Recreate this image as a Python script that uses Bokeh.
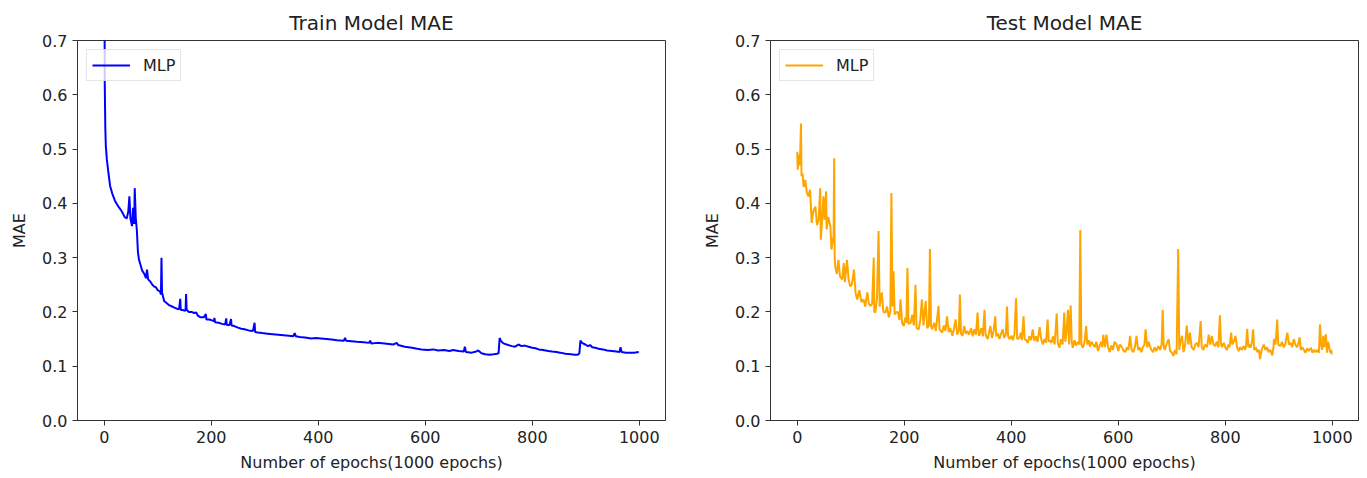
from bokeh.plotting import figure
from bokeh.layouts import row
from bokeh.models import Range1d, FixedTicker, PrintfTickFormatter, Legend, LegendItem
from bokeh.embed import file_html
from bokeh.resources import INLINE

# ---------------- data ----------------
train_epochs = [0, 1, 2, 3, 5, 8, 11, 15, 20, 24, 28, 33, 38, 42, 45, 47, 49, 52, 54, 56, 57, 59, 61, 63, 65, 68,
                71, 75, 78, 80, 82, 86, 90, 93, 97, 100, 104, 106, 107, 108, 110, 112, 117, 122, 127, 131, 136,
                140, 142, 143, 148, 152, 153, 154, 158, 163, 168, 172, 175, 180, 186, 190, 191, 196, 200, 205,
                206, 207, 214, 220, 226, 228, 229, 234, 237, 238, 243, 250, 256, 262, 270, 278, 281, 282, 287,
                295, 305, 315, 325, 335, 345, 353, 356, 358, 365, 375, 387, 395, 405, 415, 425, 435, 448, 450,
                452, 462, 472, 485, 495, 497, 499, 510, 524, 540, 547, 549, 562, 575, 585, 593, 605, 615, 624,
                635, 645, 652, 662, 672, 674, 676, 687, 695, 699, 705, 712, 720, 728, 734, 737, 739, 741, 746,
                752, 762, 768, 774, 780, 786, 793, 800, 806, 812, 820, 830, 837, 845, 852, 862, 872, 880, 885,
                888, 890, 893, 899, 904, 908, 912, 918, 924, 932, 940, 949, 957, 963, 965, 967, 975, 981, 990, 999]
train_mae = [0.95, 0.62, 0.54, 0.505, 0.48, 0.455, 0.432, 0.418, 0.405, 0.398, 0.392, 0.385, 0.375, 0.372, 0.385,
             0.413, 0.372, 0.358, 0.392, 0.362, 0.428, 0.372, 0.35, 0.31, 0.296, 0.286, 0.276, 0.27, 0.262, 0.278,
             0.26, 0.256, 0.25, 0.247, 0.245, 0.24, 0.238, 0.232, 0.30, 0.236, 0.228, 0.22, 0.216, 0.212, 0.21,
             0.208, 0.206, 0.205, 0.224, 0.204, 0.203, 0.202, 0.233, 0.204, 0.2, 0.2, 0.198, 0.199, 0.193, 0.19,
             0.19, 0.196, 0.186, 0.186, 0.185, 0.183, 0.189, 0.181, 0.18, 0.178, 0.177, 0.188, 0.176, 0.176,
             0.187, 0.175, 0.174, 0.171, 0.169, 0.168, 0.166, 0.165, 0.18, 0.163, 0.162, 0.161, 0.16, 0.159,
             0.158, 0.157, 0.156, 0.155, 0.161, 0.155, 0.154, 0.153, 0.151, 0.152, 0.151, 0.15, 0.149, 0.148,
             0.147, 0.152, 0.147, 0.146, 0.145, 0.144, 0.143, 0.147, 0.142, 0.143, 0.142, 0.14, 0.143, 0.139,
             0.136, 0.134, 0.132, 0.131, 0.13, 0.131, 0.129, 0.13, 0.128, 0.13, 0.128, 0.127, 0.136, 0.126,
             0.125, 0.127, 0.129, 0.124, 0.122, 0.121, 0.122, 0.123, 0.124, 0.152, 0.147, 0.142, 0.14, 0.137,
             0.136, 0.14, 0.137, 0.138, 0.136, 0.134, 0.133, 0.131, 0.13, 0.128, 0.127, 0.126, 0.125, 0.123,
             0.122, 0.121, 0.121, 0.124, 0.147, 0.143, 0.14, 0.137, 0.139, 0.135, 0.134, 0.132, 0.131, 0.129,
             0.128, 0.127, 0.126, 0.135, 0.126, 0.125, 0.125, 0.125, 0.126]

test_epochs = [0, 1, 3, 5, 7, 8, 10, 12, 15, 18, 21, 24, 27, 30, 34, 37, 40, 43, 44, 46, 49, 51, 54, 55, 58, 62,
               64, 66, 68, 69, 70, 71, 74, 77, 80, 84, 87, 89, 93, 96, 99, 102, 106, 109, 112, 116, 120, 124,
               127, 131, 134, 137, 140, 143, 144, 146, 149, 152, 154, 158, 161, 165, 168, 171, 174, 176, 178,
               180, 182, 184, 188, 191, 193, 196, 199, 202, 204, 206, 208, 212, 215, 218, 221, 223, 227, 230,
               233, 236, 240, 243, 246, 248, 250, 252, 256, 259, 264, 266, 271, 274, 277, 280, 283, 286, 290,
               293, 296, 299, 302, 304, 306, 309, 312, 315, 318, 321, 325, 328, 331, 334, 337, 339, 340, 344,
               347, 350, 352, 356, 359, 361, 364, 367, 370, 372, 375, 378, 381, 384, 387, 390, 392, 394, 397,
               400, 403, 406, 409, 411, 415, 418, 420, 423, 425, 428, 431, 434, 437, 440, 443, 446, 449, 453,
               456, 459, 462, 465, 468, 470, 472, 475, 478, 481, 485, 487, 490, 493, 496, 499, 501, 503, 506,
               508, 511, 513, 515, 518, 521, 524, 527, 529, 531, 534, 537, 540, 542, 545, 547, 550, 553, 556,
               559, 562, 565, 568, 570, 572, 575, 578, 581, 584, 587, 590, 593, 597, 600, 603, 606, 609, 613,
               616, 619, 622, 625, 628, 631, 634, 637, 640, 643, 646, 649, 651, 654, 657, 659, 662, 665, 668,
               671, 675, 678, 681, 683, 685, 687, 690, 694, 697, 700, 703, 706, 709, 712, 714, 716, 719, 722,
               725, 728, 731, 734, 737, 741, 744, 747, 750, 754, 756, 759, 762, 766, 769, 772, 775, 778, 781,
               784, 787, 790, 792, 794, 797, 800, 803, 806, 808, 811, 813, 816, 819, 822, 825, 828, 831, 834,
               837, 839, 841, 843, 845, 847, 850, 852, 854, 857, 860, 863, 865, 868, 872, 875, 878, 881, 884,
               888, 890, 891, 894, 897, 899, 903, 906, 909, 912, 916, 919, 922, 925, 928, 931, 934, 936, 939,
               941, 944, 947, 950, 953, 956, 960, 963, 966, 969, 972, 975, 977, 979, 981, 983, 985, 988, 990,
               992, 994, 996, 998, 999]
test_mae = [0.495, 0.462, 0.49, 0.47, 0.547, 0.45, 0.455, 0.43, 0.443, 0.42, 0.413, 0.425, 0.364, 0.385, 0.394,
            0.36, 0.37, 0.428, 0.333, 0.36, 0.413, 0.37, 0.422, 0.352, 0.375, 0.357, 0.315, 0.33, 0.34, 0.483,
            0.3, 0.284, 0.27, 0.296, 0.265, 0.26, 0.29, 0.255, 0.296, 0.26, 0.247, 0.25, 0.278, 0.235, 0.223,
            0.24, 0.218, 0.223, 0.21, 0.236, 0.215, 0.211, 0.215, 0.30, 0.2, 0.199, 0.225, 0.349, 0.21, 0.236,
            0.2, 0.199, 0.21, 0.19, 0.2, 0.419, 0.21, 0.275, 0.195, 0.199, 0.2, 0.185, 0.223, 0.18, 0.174, 0.19,
            0.18, 0.281, 0.178, 0.18, 0.195, 0.175, 0.25, 0.17, 0.168, 0.185, 0.223, 0.175, 0.22, 0.17, 0.175,
            0.316, 0.175, 0.168, 0.18, 0.165, 0.211, 0.168, 0.162, 0.175, 0.165, 0.192, 0.163, 0.17, 0.156,
            0.17, 0.186, 0.158, 0.165, 0.232, 0.16, 0.156, 0.174, 0.16, 0.165, 0.158, 0.17, 0.155, 0.168, 0.158,
            0.199, 0.16, 0.156, 0.17, 0.155, 0.204, 0.158, 0.15, 0.165, 0.174, 0.152, 0.165, 0.192, 0.155, 0.16,
            0.15, 0.16, 0.168, 0.152, 0.16, 0.21, 0.155, 0.15, 0.156, 0.148, 0.16, 0.225, 0.15, 0.152, 0.162,
            0.148, 0.192, 0.15, 0.148, 0.143, 0.155, 0.148, 0.168, 0.147, 0.155, 0.145, 0.172, 0.15, 0.14, 0.15,
            0.143, 0.186, 0.145, 0.148, 0.143, 0.155, 0.14, 0.197, 0.142, 0.134, 0.15, 0.14, 0.199, 0.145, 0.16,
            0.204, 0.14, 0.212, 0.145, 0.134, 0.148, 0.138, 0.145, 0.14, 0.351, 0.14, 0.134, 0.145, 0.174, 0.14,
            0.148, 0.136, 0.145, 0.14, 0.135, 0.145, 0.128, 0.138, 0.145, 0.135, 0.158, 0.135, 0.158, 0.135,
            0.126, 0.138, 0.13, 0.145, 0.14, 0.128, 0.14, 0.136, 0.13, 0.126, 0.135, 0.13, 0.156, 0.13, 0.126,
            0.135, 0.156, 0.13, 0.135, 0.126, 0.135, 0.14, 0.168, 0.135, 0.145, 0.137, 0.13, 0.126, 0.135, 0.128,
            0.137, 0.13, 0.14, 0.204, 0.135, 0.13, 0.14, 0.15, 0.128, 0.125, 0.119, 0.13, 0.122, 0.316, 0.13,
            0.145, 0.156, 0.126, 0.14, 0.175, 0.14, 0.162, 0.135, 0.13, 0.14, 0.143, 0.135, 0.183, 0.135, 0.13,
            0.14, 0.135, 0.158, 0.14, 0.156, 0.14, 0.137, 0.145, 0.135, 0.194, 0.14, 0.135, 0.143, 0.135, 0.13,
            0.14, 0.135, 0.162, 0.14, 0.145, 0.156, 0.135, 0.128, 0.135, 0.13, 0.137, 0.13, 0.14, 0.169, 0.135,
            0.14, 0.134, 0.145, 0.168, 0.13, 0.135, 0.126, 0.13, 0.113, 0.13, 0.14, 0.13, 0.135, 0.126, 0.13,
            0.12, 0.135, 0.15, 0.14, 0.186, 0.14, 0.137, 0.145, 0.135, 0.14, 0.162, 0.14, 0.143, 0.135, 0.15,
            0.14, 0.135, 0.14, 0.153, 0.13, 0.135, 0.13, 0.125, 0.133, 0.128, 0.134, 0.125, 0.13, 0.126, 0.13,
            0.125, 0.177, 0.14, 0.13, 0.156, 0.135, 0.159, 0.125, 0.145, 0.137, 0.125, 0.13, 0.122]

x_ticks = [0, 200, 400, 600, 800, 1000]
y_ticks = [0.0, 0.1, 0.2, 0.3, 0.4, 0.5, 0.6, 0.7]
titles = ["Train Model MAE", "Test Model MAE"]
x_label = "Number of epochs(1000 epochs)"
y_label = "MAE"
legend_label = "MLP"

FONT = "DejaVu Sans"
TXT = "#222222"


def make_panel(title, xs, ys, color, width, border_left, border_right):
    p = figure(width=width, height=474, output_backend="svg", toolbar_location=None,
               x_range=Range1d(-49.95, 1048.95), y_range=Range1d(0.0, 0.7),
               min_border_left=border_left, min_border_right=border_right, min_border_top=40,
               min_border_bottom=53, title=title)
    p.title.align = "center"
    p.title.text_font = FONT
    p.title.text_font_size = "20px"
    p.title.text_font_style = "normal"
    p.title.text_color = TXT
    p.title.standoff = 11
    p.grid.visible = False
    p.outline_line_color = "#333333"
    p.outline_line_width = 1
    p.background_fill_color = "white"
    p.border_fill_color = "white"
    for ax in (p.xaxis[0], p.yaxis[0]):
        ax.axis_line_color = "#333333"
        ax.major_tick_line_color = "#333333"
        ax.major_tick_out = 5
        ax.major_tick_in = 0
        ax.minor_tick_line_color = None
        ax.major_label_text_font = FONT
        ax.major_label_text_font_size = "16px"
        ax.major_label_text_color = TXT
        ax.axis_label_text_font = FONT
        ax.axis_label_text_font_size = "16px"
        ax.axis_label_text_font_style = "normal"
        ax.axis_label_text_color = TXT
        ax.major_label_standoff = 5
        ax.axis_label_standoff = 7
    p.xaxis.ticker = FixedTicker(ticks=x_ticks)
    p.yaxis.ticker = FixedTicker(ticks=y_ticks)
    p.yaxis.formatter = PrintfTickFormatter(format="%.1f")
    p.xaxis.axis_label = x_label
    p.yaxis.axis_label = y_label
    p.yaxis.axis_label_standoff = 10

    r = p.line(xs, ys, line_color=color, line_width=2)
    legend = Legend(items=[LegendItem(label=legend_label, renderers=[r])], location="top_left")
    legend.margin = 9
    legend.padding = 5
    legend.glyph_width = 38
    legend.glyph_height = 20
    legend.label_standoff = 13
    legend.label_text_font = FONT
    legend.label_text_font_size = "16px"
    legend.label_text_color = TXT
    legend.border_line_color = "#cccccc"
    legend.border_line_width = 1
    legend.background_fill_alpha = 0.8
    p.add_layout(legend, "center")
    return p


p1 = make_panel(titles[0], train_epochs, train_mae, "blue", 700, 77, 35)
p2 = make_panel(titles[1], test_epochs, test_mae, "orange", 663, 69, 5)
layout = row(p1, p2)

open("out.html", "w").write(file_html(layout, INLINE))
